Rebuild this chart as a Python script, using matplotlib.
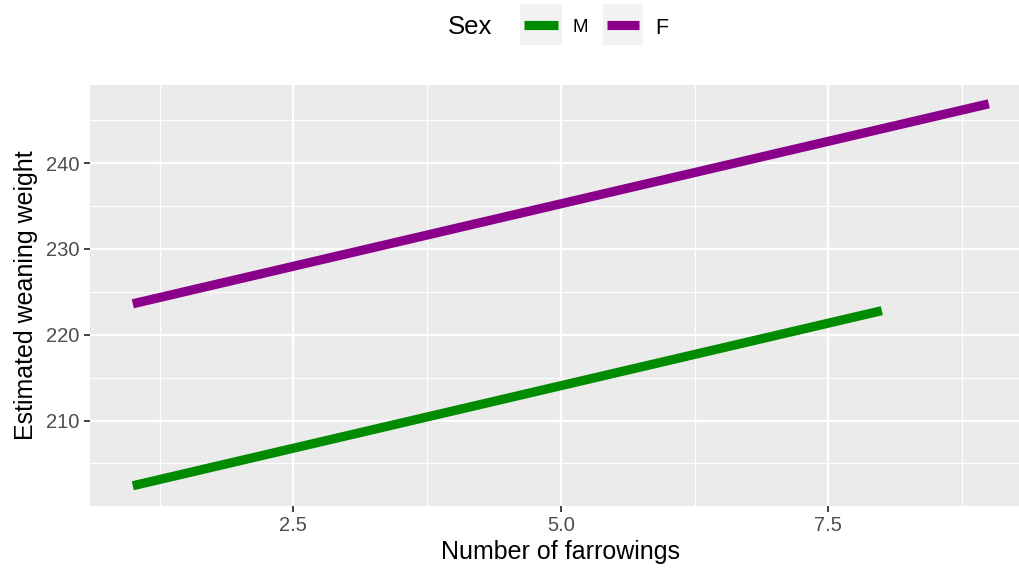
import matplotlib
matplotlib.use("Agg")
import matplotlib.pyplot as plt
from matplotlib.lines import Line2D
from matplotlib.patches import Rectangle

plt.rcParams['font.family'] = ['Liberation Sans', 'DejaVu Sans']

# Data
sexes = ["M", "F"]
colors = {"M": "#008B00", "F": "#8B008B"}
farrowings_M = [1, 8]
weight_M = [202.4, 222.8]
farrowings_F = [1, 9]
weight_F = [223.6, 246.9]
xticks = [2.5, 5.0, 7.5]
xticklabels = ["2.5", "5.0", "7.5"]
yticks = [210, 220, 230, 240]
yticklabels = ["210", "220", "230", "240"]

W, H = 1019, 568
fig = plt.figure(figsize=(W / 100, H / 100), dpi=100)

def fx(px):
    return px / W

def fy(py):
    return 1 - py / H

left, right, top, bottom = 90, 1031.6, 84.5, 505.5
ax = fig.add_axes([fx(left), fy(bottom), fx(right - left), (bottom - top) / H])
ax.set_facecolor("#EBEBEB")
for s in ax.spines.values():
    s.set_visible(False)

ax.set_xlim(0.6, 9.4)
ax.set_ylim(200.1, 249.15)
ax.set_xticks(xticks)
ax.set_xticklabels(xticklabels)
ax.set_yticks(yticks)
ax.set_yticklabels(yticklabels)
ax.set_xticks([1.25, 3.75, 6.25, 8.75], minor=True)
ax.set_yticks([205, 215, 225, 235, 245], minor=True)
ax.grid(which="major", color="white", linewidth=1.6)
ax.grid(which="minor", color="white", linewidth=0.8)
ax.set_axisbelow(True)
ax.tick_params(which="major", length=4.5, width=1.3, color="#333333",
               labelcolor="#4D4D4D", labelsize=14.5, pad=3)
ax.tick_params(which="minor", length=0)

ax.plot(farrowings_M, weight_M, color=colors["M"], linewidth=6.6,
        solid_capstyle="butt")
ax.plot(farrowings_F, weight_F, color=colors["F"], linewidth=6.6,
        solid_capstyle="butt")

ax.set_xlabel("Number of farrowings", fontsize=18, color="black", labelpad=4)
ax.set_ylabel("Estimated weaning weight", fontsize=18, color="black", labelpad=6)

# Legend (top, horizontal)
fig.text(fx(448), fy(27), "Sex", fontsize=18.5, ha="left", va="center")
key_boxes = [(520, 561.7), (602.7, 643.3)]
label_x = [572, 655]
label_sizes = [13.5, 15.5]
for s, (x0, x1), lx, ls in zip(sexes, key_boxes, label_x, label_sizes):
    fig.add_artist(Rectangle((fx(x0), fy(45)), fx(x1 - x0), 41 / H,
                             transform=fig.transFigure, facecolor="#F2F2F2",
                             edgecolor="none"))
    fig.add_artist(Line2D([fx(x0 + 4), fx(x1 - 4)], [fy(24.7), fy(24.7)],
                          transform=fig.transFigure, color=colors[s],
                          linewidth=6.6, solid_capstyle="butt"))
    fig.text(fx(lx), fy(28), s, fontsize=ls, ha="left", va="center")

fig.savefig("out.png", dpi=100)
